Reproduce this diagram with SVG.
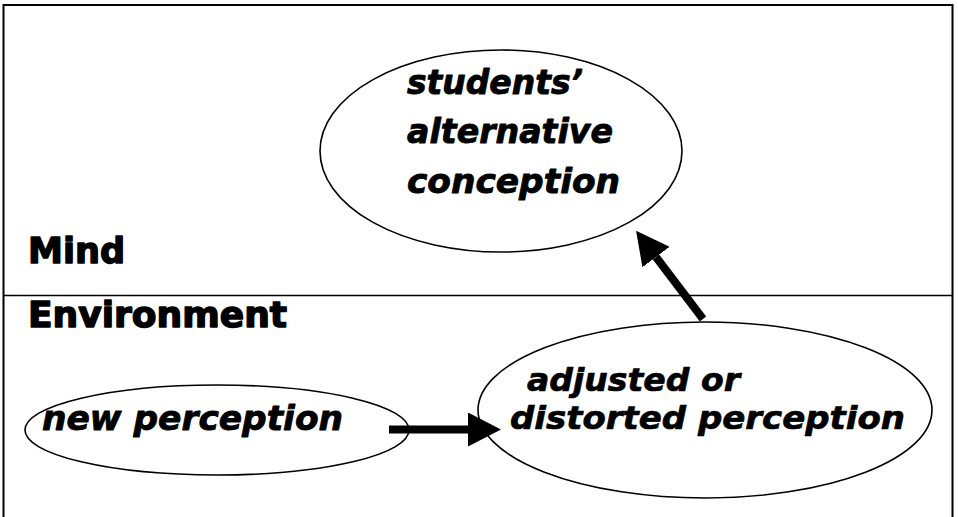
<svg xmlns="http://www.w3.org/2000/svg" width="958" height="517" viewBox="0 0 958 517">
  <defs>
    <style>
      .frame { fill: none; stroke: #000; stroke-width: 2; }
      .divider { stroke: #000; stroke-width: 1.5; }
      .node { fill: #fff; stroke: #000; stroke-width: 1.6; }
      .label { font-family: "DejaVu Sans", "Liberation Sans", sans-serif; font-weight: bold; font-style: oblique; font-size: 34px; fill: #000; stroke: #000; stroke-width: 0.9; stroke-linejoin: round; }
      .tight { font-size: 32px; stroke-width: 0.7; }
      .region { font-family: "DejaVu Sans", "Liberation Sans", sans-serif; font-weight: bold; font-size: 36px; fill: #000; stroke: #000; stroke-width: 1.5; stroke-linejoin: round; }
      .link { stroke: #000; stroke-width: 8; fill: none; }
    </style>
    <marker id="head" markerUnits="userSpaceOnUse" markerWidth="34" markerHeight="34" refX="0" refY="17" orient="auto" viewBox="0 0 34 34">
      <path d="M0,0 L33,17 L0,34 Z" fill="#000"/>
    </marker>
  </defs>

  <rect width="958" height="517" fill="#fff"/>

  <!-- panel frame and the mind / environment split -->
  <g id="frame">
    <rect class="frame" x="3.5" y="5" width="949" height="530"/>
    <line class="divider" x1="3.5" y1="295.5" x2="952.5" y2="295.5"/>
    <text class="region" x="28" y="263" textLength="97" lengthAdjust="spacingAndGlyphs">Mind</text>
    <text class="region" x="28" y="327" textLength="259" lengthAdjust="spacingAndGlyphs">Environment</text>
  </g>

  <g id="alternative-conception">
    <ellipse class="node" cx="501" cy="151" rx="181" ry="101"/>
    <text class="label" x="407" y="94" textLength="176" lengthAdjust="spacingAndGlyphs">students’</text>
    <text class="label" x="407" y="143" textLength="206" lengthAdjust="spacingAndGlyphs">alternative</text>
    <text class="label" x="407" y="193" textLength="213" lengthAdjust="spacingAndGlyphs">conception</text>
  </g>

  <g id="new-perception">
    <ellipse class="node" cx="217" cy="430" rx="192" ry="45"/>
    <text class="label" x="42" y="430" textLength="301" lengthAdjust="spacingAndGlyphs">new perception</text>
  </g>

  <g id="distorted-perception">
    <ellipse class="node" cx="705" cy="410" rx="227" ry="88"/>
    <text class="label tight" x="527" y="391" textLength="213" lengthAdjust="spacingAndGlyphs">adjusted or</text>
    <text class="label tight" x="510" y="429" textLength="395" lengthAdjust="spacingAndGlyphs">distorted perception</text>
  </g>

  <g id="connectors">
    <line class="link" x1="389" y1="429.5" x2="468" y2="429.5" marker-end="url(#head)"/>
    <line class="link" x1="703" y1="319" x2="656" y2="257" marker-end="url(#head)"/>
  </g>
</svg>
